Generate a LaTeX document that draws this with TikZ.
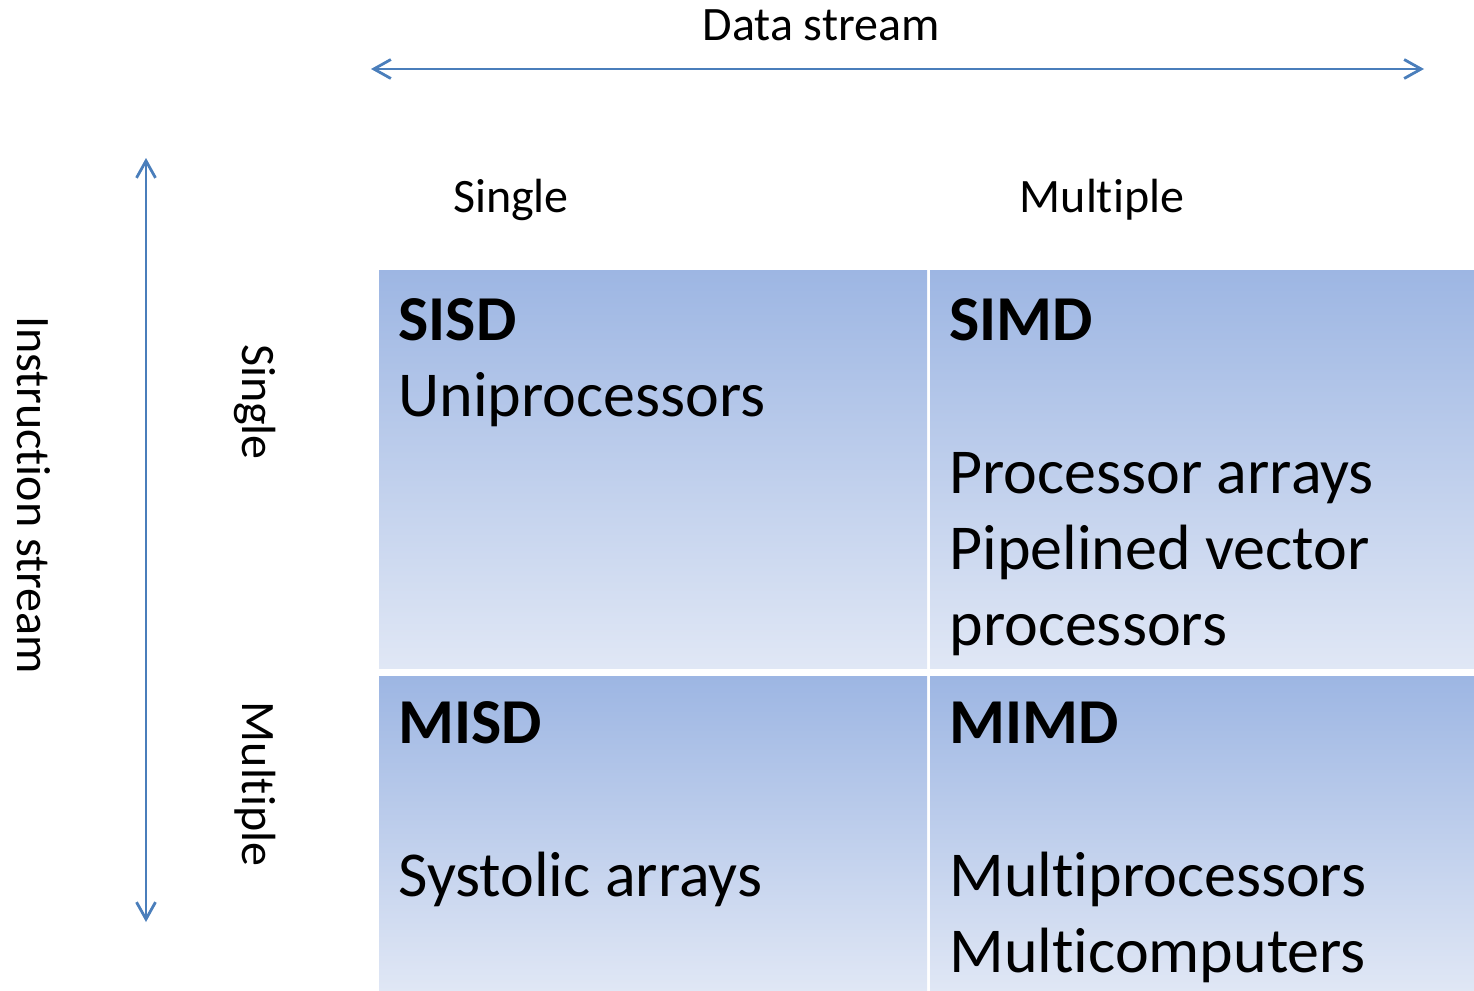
\documentclass[tikz,border=0pt]{standalone}
\usepackage{fontspec}
\setmainfont{Carlito}[Ligatures={NoCommon}]
\usetikzlibrary{arrows.meta}
\definecolor{axisblue}{HTML}{4A7EBB}
\definecolor{celltop}{HTML}{9DB6E3}
\definecolor{cellbot}{HTML}{E0E7F5}
% keep "t" and "i" as separate letters
\newcommand\tI{t\kern0pt i}
\tikzset{
  axis/.style={draw=axisblue, line width=1.4pt,
    {Straight Barb[length=8.5pt,width=9.5pt]}-{Straight Barb[length=8.5pt,width=9.5pt]}},
  head/.style={font=\fontsize{24}{29}\selectfont, inner sep=0pt, anchor=base},
  sidehead/.style={head, rotate=-90},
  cell/.style={inner sep=0pt, top color=celltop, bottom color=cellbot, draw=none},
  celltext/.style={font=\fontsize{32}{38}\selectfont, inner sep=0pt, anchor=base west},
  celltitle/.style={celltext, font=\fontsize{32}{38}\selectfont\bfseries},
}
\begin{document}
\begin{tikzpicture}[x=0.5pt, y=-0.5pt]
\useasboundingbox (0,0) rectangle (1474,991);

% axes
\coordinate (dL) at (371,69);
\coordinate (dR) at (1424,69);
\coordinate (iT) at (146,158);
\coordinate (iB) at (146,922);
\draw[axis] (dL) -- (dR);
\draw[axis] (iT) -- (iB);

% axis headings
\node[head] (data) at (821,40) {Data stream};
\node[head] (dsingle) at (511,212) {Single};
\node[head] (dmultiple) at (1102,212) {Mul\tI ple};
\node[sidehead] (instr) at (18,495) {Instruc\tI on stream};
\node[sidehead] (isingle) at (242,402) {Single};
\node[sidehead] (imultiple) at (242,784) {Mul\tI ple};

% the four classes
\path[cell] (379,270) rectangle (927,668);
\path[cell] (930,270) rectangle (1474,668);
\path[cell] (379,676) rectangle (927,991);
\path[cell] (930,676) rectangle (1474,991);

\node[celltitle] (sisd-t) at (398,340) {SISD};
\node[celltext] (sisd-1) at (398,416) {Uniprocessors};

\node[celltitle] (simd-t) at (949,340) {SIMD};
\node[celltext] (simd-1) at (949,493) {Processor arrays};
\node[celltext] (simd-2) at (949,569) {Pipelined vector};
\node[celltext] (simd-3) at (949,645) {processors};

\node[celltitle] (misd-t) at (398,743) {MISD};
\node[celltext] (misd-1) at (398,896) {Systolic arrays};

\node[celltitle] (mimd-t) at (949,743) {MIMD};
\node[celltext] (mimd-1) at (949,896) {Multiprocessors};
\node[celltext] (mimd-2) at (949,972) {Multicomputers};
\end{tikzpicture}
\end{document}
